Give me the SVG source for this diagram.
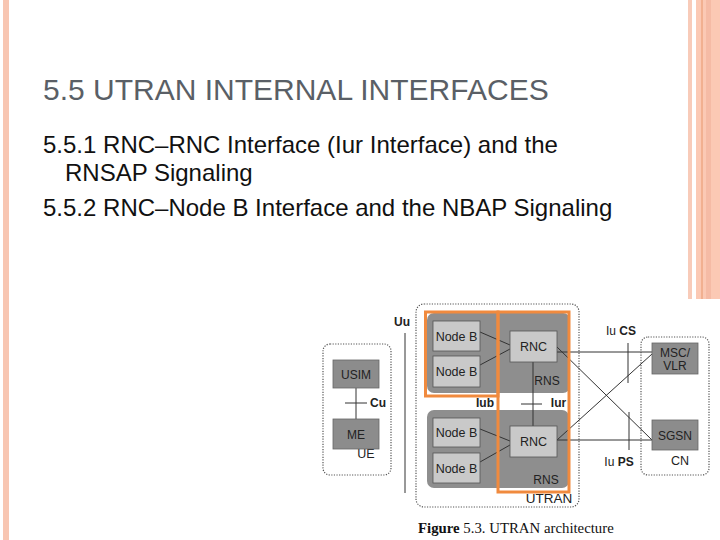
<svg xmlns="http://www.w3.org/2000/svg" width="720" height="540" viewBox="0 0 720 540">
<style>
.t{font-family:"Liberation Sans",Arial,sans-serif}
.title{font-size:30px;fill:#5a5f66}
.body{font-size:24px;fill:#111}
.lbl{font-family:"Liberation Sans",Arial,sans-serif;font-size:12px;fill:#222;text-anchor:middle}
.b{font-weight:bold}
.dot{fill:none;stroke:#555;stroke-width:1.2;stroke-dasharray:1.2 1.4}
.dark{fill:#8c8c8c;stroke:#666;stroke-width:0.8}
.light{fill:#c9c9c9;stroke:#555;stroke-width:0.8}
.rns{fill:#8e8e8e}
.org{fill:none;stroke:#f08a3e;stroke-width:3}
.ln{stroke:#333;stroke-width:1;fill:none}
.cap{font-family:"Liberation Serif","Times New Roman",serif;font-size:14.8px;fill:#111}
</style>
<rect width="720" height="540" fill="#fff"/>
<g id="page-border">
<rect x="3" y="0" width="6" height="540" fill="#f8c6b2"/>
<rect x="688" y="0" width="4" height="299" fill="#f8cbb9"/>
<rect x="696" y="0" width="24" height="299" fill="#fbc9b4"/>
<rect x="706" y="0" width="5" height="299" fill="#f5bba5"/>
<line x1="702" y1="0" x2="702" y2="299" stroke="#e8976c" stroke-width="1"/>
</g>
<g id="heading">
<text class="t title" x="43" y="100">5.5 UTRAN INTERNAL INTERFACES</text>
<text class="t body" x="43" y="153">5.5.1 RNC–RNC Interface (Iur Interface) and the</text>
<text class="t body" x="65" y="181">RNSAP Signaling</text>
<text class="t body" x="43" y="216">5.5.2 RNC–Node B Interface and the NBAP Signaling</text>
</g>
<g id="utran">
<rect class="dot" x="416" y="304" width="163" height="203" rx="8"/>
<text class="lbl" x="549" y="503" style="font-size:13.5px">UTRAN</text>
</g>
<g id="rns-top">
<rect class="rns" x="427" y="313" width="143" height="80" rx="7"/>
<text class="lbl" x="547" y="385">RNS</text>
</g>
<g id="rns-bottom">
<rect class="rns" x="427" y="410" width="142" height="78" rx="7"/>
<text class="lbl" x="546" y="484">RNS</text>
</g>
<g id="connectors">
<line class="ln" x1="480" y1="332" x2="510" y2="345"/>
<line class="ln" x1="480" y1="365" x2="510" y2="349"/>
<line class="ln" x1="480" y1="429" x2="510" y2="441"/>
<line class="ln" x1="480" y1="462" x2="510" y2="445"/>
<line class="ln" x1="533" y1="362" x2="533" y2="426" stroke-width="1.3"/>
<line class="ln" x1="521" y1="404" x2="542" y2="404" stroke-width="1.3"/>
<line class="ln" x1="557" y1="352" x2="652" y2="352" stroke-width="1.5"/>
<line class="ln" x1="557" y1="347" x2="652" y2="440"/>
<line class="ln" x1="557" y1="440" x2="652" y2="354"/>
<line class="ln" x1="557" y1="440" x2="652" y2="440" stroke="#777"/>
<line class="ln" x1="628" y1="343" x2="628" y2="383" stroke-width="1.3"/>
<line class="ln" x1="629" y1="412" x2="629" y2="450" stroke-width="1.3"/>
<line class="ln" x1="405" y1="333" x2="405" y2="493" stroke="#555" stroke-width="1.5"/>
<line class="ln" x1="356" y1="388" x2="356" y2="419"/>
<line class="ln" x1="345" y1="403" x2="367" y2="403" stroke-width="1.3"/>
</g>
<g id="nodeb-1"><rect class="light" x="433" y="321" width="47" height="30"/><text class="lbl" x="456.5" y="340.5" style="font-size:12.5px">Node B</text></g>
<g id="nodeb-2"><rect class="light" x="433" y="356" width="47" height="31"/><text class="lbl" x="456.5" y="375.5" style="font-size:12.5px">Node B</text></g>
<g id="nodeb-3"><rect class="light" x="433" y="418" width="47" height="29"/><text class="lbl" x="456.5" y="436.5" style="font-size:12.5px">Node B</text></g>
<g id="nodeb-4"><rect class="light" x="433" y="453" width="47" height="30"/><text class="lbl" x="456.5" y="472.5" style="font-size:12.5px">Node B</text></g>
<g id="rnc-1"><rect class="light" x="510" y="331" width="47" height="31"/><text class="lbl" x="533.5" y="351" style="font-size:12.5px">RNC</text></g>
<g id="rnc-2"><rect class="light" x="510" y="426" width="47" height="31"/><text class="lbl" x="533.5" y="446" style="font-size:12.5px">RNC</text></g>
<g id="orange-highlights">
<rect class="org" x="425.5" y="312" width="72.5" height="84"/>
<rect class="org" x="498" y="312" width="71" height="180"/>
</g>
<g id="iface-labels">
<text class="lbl b" x="485" y="407">Iub</text>
<text class="lbl b" x="558.5" y="407">Iur</text>
<text class="lbl b" x="402" y="326">Uu</text>
<text class="lbl" x="621" y="335"><tspan>Iu </tspan><tspan class="b">CS</tspan></text>
<text class="lbl" x="619" y="466"><tspan>Iu </tspan><tspan class="b">PS</tspan></text>
<text class="lbl b" x="378" y="407">Cu</text>
</g>
<g id="ue">
<rect class="dot" x="323" y="344" width="68" height="131" rx="7"/>
<text class="lbl" x="366" y="458" style="font-size:12.5px">UE</text>
</g>
<g id="usim"><rect class="dark" x="333" y="360" width="46" height="28"/><text class="lbl" x="356" y="378.5">USIM</text></g>
<g id="me"><rect class="dark" x="333" y="419" width="46" height="30"/><text class="lbl" x="356" y="438.5">ME</text></g>
<g id="cn">
<rect class="dot" x="641" y="337" width="68" height="138" rx="7"/>
<text class="lbl" x="680" y="465" style="font-size:12.5px">CN</text>
</g>
<g id="msc-vlr"><rect class="dark" x="652" y="343" width="46" height="31"/><text class="lbl" x="675" y="357">MSC/</text><text class="lbl" x="675" y="369.5">VLR</text></g>
<g id="sgsn"><rect class="dark" x="652" y="420" width="46" height="30"/><text class="lbl" x="675" y="440">SGSN</text></g>
<g id="caption">
<text class="cap" x="418" y="533"><tspan font-weight="bold">Figure</tspan> 5.3.  UTRAN architecture</text>
</g>
</svg>
